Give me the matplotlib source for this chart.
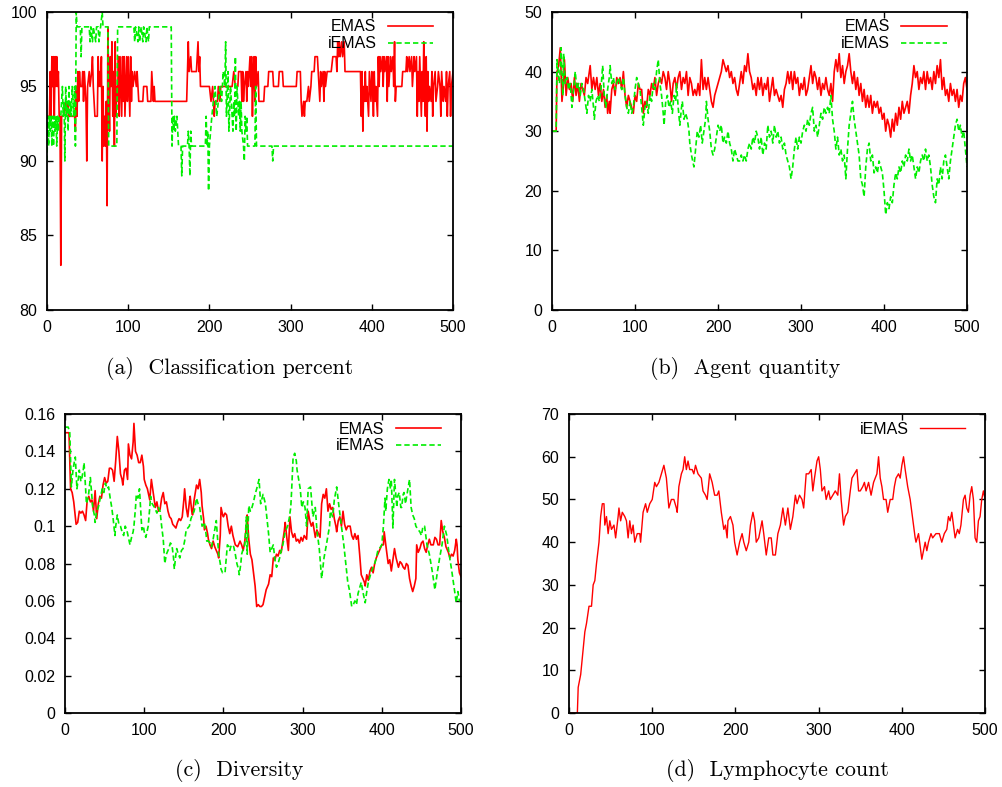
import matplotlib
matplotlib.use("Agg")
import matplotlib.pyplot as plt

plt.rcParams['font.family'] = ['Liberation Sans', 'DejaVu Sans']

# (step, value) pairs

# (a) classification percent
cls_emas = [(0, 93), (3, 93), (4, 96), (5, 93), (6, 97), (7, 95), (8, 97), (9, 93), (10, 97), (11, 95), (12, 97),
            (13, 95), (14, 96), (15, 93), (16, 93), (17, 83), (18, 93), (20, 93), (23, 94), (24, 93), (26, 94),
            (27, 93), (34, 93), (35, 92), (36, 95), (37, 93), (38, 96), (39, 94), (40, 96), (41, 95), (43, 95),
            (44, 96), (45, 94), (46, 96), (48, 94), (49, 90), (50, 95), (52, 96), (53, 95), (55, 96), (56, 97),
            (57, 95), (59, 93), (62, 93), (63, 97), (64, 95), (65, 96), (66, 95), (67, 97), (68, 90), (69, 95),
            (70, 91), (71, 93), (72, 91), (73, 94), (74, 87), (75, 99), (76, 95), (77, 92), (78, 97), (79, 95),
            (80, 98), (81, 93), (82, 96), (83, 91), (84, 98), (85, 93), (86, 95), (87, 94), (88, 97), (89, 93),
            (90, 97), (91, 95), (92, 93), (93, 97), (94, 94), (95, 97), (96, 93), (98, 97), (99, 94), (100, 97),
            (101, 95), (102, 93), (103, 97), (104, 94), (105, 96), (106, 95), (108, 96), (110, 95), (111, 96),
            (112, 95), (113, 94), (118, 94), (119, 95), (123, 95), (124, 94), (128, 94), (129, 96), (130, 95),
            (131, 94), (132, 95), (133, 94), (143, 94), (172, 94), (174, 98), (175, 96), (177, 97), (178, 96),
            (184, 96), (186, 98), (187, 96), (188, 97), (189, 95), (200, 95), (202, 94), (204, 95), (206, 93),
            (207, 94), (210, 94), (211, 95), (213, 94), (214, 95), (228, 95), (230, 96), (232, 95), (235, 95),
            (236, 96), (239, 96), (240, 94), (241, 96), (242, 94), (243, 95), (245, 96), (246, 94), (247, 96),
            (248, 95), (250, 97), (251, 95), (252, 97), (253, 93), (254, 96), (255, 97), (256, 94), (257, 97),
            (258, 95), (260, 96), (261, 94), (267, 94), (268, 95), (272, 95), (273, 96), (278, 96), (279, 95),
            (285, 95), (286, 96), (290, 96), (291, 95), (307, 95), (308, 96), (312, 96), (313, 94), (314, 93),
            (316, 94), (317, 93), (318, 94), (320, 94), (322, 95), (323, 94), (325, 95), (326, 96), (329, 96),
            (330, 97), (333, 97), (334, 96), (336, 94), (337, 96), (338, 95), (340, 96), (341, 94), (342, 96),
            (343, 95), (345, 96), (350, 96), (352, 97), (356, 97), (357, 96), (358, 98), (359, 97), (360, 98),
            (361, 97), (363, 98), (364, 97), (366, 98), (367, 96), (373, 96), (386, 96), (387, 93), (388, 96),
            (389, 92), (390, 95), (391, 94), (392, 96), (393, 94), (394, 95), (396, 93), (397, 96), (399, 94),
            (400, 96), (401, 95), (402, 93), (403, 96), (404, 94), (405, 95), (407, 93), (408, 97), (409, 95),
            (410, 97), (411, 96), (413, 97), (414, 95), (415, 97), (416, 96), (418, 97), (419, 94), (420, 97),
            (421, 95), (423, 97), (424, 96), (426, 97), (427, 95), (428, 98), (429, 94), (430, 95), (437, 95),
            (438, 96), (442, 96), (443, 97), (444, 96), (446, 97), (447, 96), (449, 97), (450, 95), (452, 97),
            (453, 96), (455, 97), (456, 93), (457, 96), (458, 94), (459, 97), (460, 95), (461, 93), (462, 96),
            (463, 94), (464, 98), (465, 95), (466, 93), (467, 97), (468, 92), (469, 96), (470, 94), (471, 95),
            (473, 94), (474, 96), (475, 93), (476, 95), (478, 96), (479, 94), (481, 95), (482, 96), (484, 95),
            (485, 93), (486, 96), (488, 94), (489, 95), (491, 94), (492, 96), (493, 93), (494, 95), (496, 96),
            (497, 93), (498, 95), (500, 96)]
cls_iemas = [(0, 90), (1, 93), (2, 91), (3, 93), (4, 92), (5, 93), (6, 91), (7, 93), (8, 91), (9, 93), (10, 92),
             (11, 93), (12, 91), (13, 93), (14, 92), (15, 93), (17, 93), (18, 94), (19, 95), (20, 93), (21, 94),
             (22, 90), (23, 95), (24, 93), (25, 94), (26, 92), (27, 95), (28, 93), (29, 94), (30, 93), (31, 95),
             (32, 94), (33, 93), (34, 95), (35, 91), (36, 100), (37, 99), (41, 99), (42, 97), (43, 99), (52, 99),
             (53, 98), (54, 99), (56, 98), (57, 99), (60, 98), (61, 99), (63, 99), (64, 98), (66, 99), (68, 100),
             (69, 99), (75, 99), (76, 91), (86, 91), (87, 99), (107, 99), (108, 98), (109, 99), (112, 98),
             (113, 99), (114, 98), (116, 99), (118, 98), (119, 99), (122, 98), (123, 99), (125, 98), (126, 99),
             (153, 99), (154, 91), (155, 93), (156, 92), (157, 93), (158, 92), (160, 93), (161, 92), (162, 91),
             (165, 91), (166, 89), (167, 91), (173, 91), (174, 92), (175, 91), (176, 89), (177, 92), (178, 91),
             (195, 91), (196, 93), (197, 91), (198, 92), (199, 88), (200, 91), (203, 93), (205, 94), (207, 95),
             (209, 93), (211, 94), (213, 95), (215, 94), (217, 96), (219, 95), (220, 98), (221, 93), (223, 96),
             (224, 92), (226, 95), (227, 94), (229, 92), (230, 94), (231, 93), (232, 97), (233, 92), (234, 95),
             (236, 93), (237, 94), (238, 92), (239, 94), (240, 92), (242, 91), (243, 90), (244, 93), (245, 92),
             (246, 93), (247, 91), (256, 91), (257, 95), (258, 91), (277, 91), (278, 90), (279, 91), (500, 91)]

# (b) agent quantity
agt_emas = [(0, 30), (5, 30), (6, 40), (8, 41), (10, 44), (12, 35), (14, 38), (15, 42), (17, 36), (19, 39),
            (21, 37), (23, 38), (25, 35), (27, 39), (29, 36), (31, 38), (33, 35), (35, 38), (37, 37), (39, 36),
            (41, 39), (43, 38), (46, 41), (48, 37), (50, 39), (52, 37), (54, 39), (56, 36), (58, 38), (60, 35),
            (62, 37), (64, 34), (66, 36), (67, 33), (69, 35), (70, 33), (72, 37), (74, 38), (76, 36), (78, 39),
            (80, 38), (82, 39), (84, 37), (86, 40), (88, 36), (90, 34), (92, 36), (94, 35), (96, 34), (98, 33),
            (100, 36), (102, 35), (104, 38), (106, 37), (108, 37), (110, 33), (112, 35), (114, 34), (116, 37),
            (118, 36), (120, 38), (122, 37), (124, 39), (126, 36), (128, 38), (130, 39), (132, 38), (134, 40),
            (136, 39), (138, 37), (140, 40), (142, 38), (144, 35), (146, 38), (148, 39), (150, 37), (152, 39),
            (154, 40), (156, 37), (158, 39), (160, 38), (162, 40), (164, 36), (166, 39), (168, 38), (170, 36),
            (172, 37), (174, 36), (176, 38), (178, 36), (180, 42), (182, 37), (184, 39), (186, 37), (188, 39),
            (190, 37), (192, 35), (194, 34), (196, 36), (198, 37), (200, 38), (202, 39), (204, 40), (206, 42),
            (208, 41), (210, 40), (212, 41), (214, 39), (216, 40), (218, 38), (220, 39), (222, 37), (224, 36),
            (226, 38), (228, 40), (230, 38), (232, 41), (234, 40), (236, 43), (238, 40), (240, 39), (242, 37),
            (244, 38), (246, 36), (248, 39), (250, 37), (252, 39), (254, 36), (256, 38), (258, 37), (260, 39),
            (262, 35), (264, 37), (266, 39), (268, 36), (270, 37), (272, 36), (274, 35), (276, 36), (278, 34),
            (280, 37), (282, 38), (284, 40), (286, 38), (288, 40), (290, 37), (292, 40), (294, 38), (296, 39),
            (298, 36), (300, 38), (302, 37), (304, 39), (306, 36), (308, 37), (310, 39), (312, 41), (314, 38),
            (316, 40), (318, 39), (320, 37), (322, 39), (324, 36), (326, 38), (328, 37), (330, 39), (332, 37),
            (334, 36), (336, 38), (338, 35), (340, 40), (342, 42), (344, 40), (346, 43), (348, 39), (350, 41),
            (352, 38), (354, 40), (356, 41), (358, 43), (360, 40), (362, 38), (364, 40), (366, 37), (368, 39),
            (370, 36), (372, 38), (374, 35), (376, 37), (378, 34), (380, 36), (382, 34), (384, 36), (386, 33),
            (388, 35), (390, 34), (392, 35), (394, 33), (396, 34), (398, 32), (400, 33), (402, 30), (404, 32),
            (406, 31), (408, 29), (410, 32), (412, 30), (414, 33), (416, 31), (418, 34), (420, 32), (422, 35),
            (424, 33), (426, 34), (428, 35), (430, 33), (432, 36), (434, 38), (436, 41), (438, 39), (440, 40),
            (442, 37), (444, 39), (446, 38), (448, 40), (450, 37), (452, 40), (454, 38), (456, 39), (458, 37),
            (460, 40), (462, 38), (464, 41), (466, 39), (468, 42), (470, 37), (472, 39), (474, 36), (476, 37),
            (478, 35), (480, 38), (482, 36), (484, 37), (486, 35), (488, 37), (490, 34), (492, 36), (494, 35),
            (496, 38), (498, 39), (500, 37)]
agt_iemas = [(0, 30), (5, 30), (6, 42), (9, 38), (11, 44), (13, 36), (14, 43), (16, 38), (18, 39), (20, 37),
             (22, 38), (24, 34), (26, 37), (28, 40), (30, 37), (32, 38), (34, 36), (36, 38), (38, 37), (40, 35),
             (42, 33), (44, 36), (46, 35), (48, 37), (50, 34), (51, 32), (53, 35), (55, 36), (57, 35), (59, 37),
             (61, 41), (63, 36), (65, 34), (67, 37), (69, 39), (70, 41), (72, 38), (74, 39), (76, 37), (78, 38),
             (80, 39), (82, 38), (84, 37), (86, 39), (88, 36), (90, 34), (92, 33), (94, 35), (96, 33), (98, 34),
             (100, 37), (102, 39), (104, 38), (106, 37), (108, 34), (110, 31), (112, 34), (114, 35), (116, 33),
             (118, 36), (120, 35), (122, 38), (124, 37), (126, 40), (128, 42), (130, 38), (132, 36), (134, 33),
             (135, 31), (137, 35), (139, 36), (141, 34), (143, 35), (145, 33), (147, 36), (149, 35), (150, 38),
             (152, 34), (154, 31), (156, 34), (157, 35), (159, 32), (161, 33), (163, 32), (165, 30), (166, 28),
             (168, 26), (171, 24), (173, 27), (175, 30), (177, 29), (179, 31), (181, 28), (183, 30), (185, 32),
             (186, 35), (188, 32), (190, 30), (192, 27), (194, 26), (196, 27), (198, 29), (200, 31), (202, 30),
             (204, 31), (206, 28), (208, 29), (210, 28), (212, 30), (214, 28), (216, 27), (218, 25), (220, 27),
             (222, 26), (224, 25), (226, 25), (228, 26), (230, 25), (232, 26), (234, 25), (236, 27), (238, 28),
             (240, 27), (242, 29), (244, 28), (246, 30), (248, 29), (250, 27), (252, 29), (254, 26), (256, 28),
             (258, 27), (260, 31), (262, 29), (264, 30), (266, 28), (268, 31), (270, 29), (272, 30), (274, 28),
             (276, 29), (278, 27), (280, 28), (282, 26), (284, 25), (286, 24), (288, 22), (290, 24), (292, 27),
             (294, 29), (296, 27), (298, 29), (300, 28), (302, 30), (304, 31), (306, 30), (308, 32), (310, 31),
             (312, 33), (314, 34), (316, 30), (318, 31), (320, 29), (322, 31), (324, 33), (326, 32), (328, 34),
             (330, 33), (332, 34), (334, 33), (336, 36), (338, 32), (340, 30), (342, 27), (344, 29), (346, 26),
             (348, 27), (350, 25), (352, 26), (354, 22), (356, 27), (358, 31), (360, 33), (362, 35), (364, 32),
             (366, 30), (368, 28), (370, 26), (372, 22), (374, 21), (376, 19), (378, 24), (380, 27), (382, 28),
             (384, 25), (386, 26), (388, 23), (390, 24), (392, 23), (394, 25), (396, 24), (398, 23), (400, 20),
             (402, 16), (404, 18), (406, 17), (408, 19), (410, 18), (412, 21), (414, 23), (416, 22), (418, 24),
             (420, 23), (422, 25), (424, 24), (426, 26), (428, 25), (430, 27), (432, 25), (434, 26), (436, 24),
             (438, 22), (440, 24), (442, 23), (444, 25), (446, 26), (448, 25), (450, 27), (452, 25), (454, 26),
             (456, 24), (458, 21), (460, 19), (462, 18), (464, 22), (466, 21), (468, 24), (470, 22), (472, 25),
             (474, 26), (476, 24), (478, 22), (480, 25), (482, 27), (484, 29), (486, 31), (488, 32), (490, 30),
             (492, 31), (494, 29), (496, 30), (498, 27), (500, 24)]

# (c) diversity
div_emas = [(0, 0.15), (3, 0.15), (5, 0.15), (7, 0.12), (9, 0.118), (11, 0.113), (13, 0.105), (14, 0.101),
            (16, 0.102), (18, 0.108), (20, 0.107), (22, 0.108), (24, 0.106), (26, 0.103), (28, 0.114), (30, 0.116),
            (32, 0.113), (34, 0.114), (36, 0.108), (38, 0.119), (40, 0.104), (42, 0.112), (44, 0.116), (46, 0.115),
            (48, 0.122), (50, 0.126), (52, 0.123), (54, 0.124), (56, 0.131), (58, 0.131), (60, 0.13), (62, 0.124),
            (64, 0.135), (66, 0.148), (68, 0.14), (70, 0.128), (72, 0.125), (73, 0.122), (75, 0.13), (77, 0.131),
            (79, 0.125), (80, 0.144), (82, 0.138), (84, 0.136), (86, 0.145), (87, 0.155), (89, 0.14), (91, 0.138),
            (93, 0.134), (95, 0.134), (97, 0.138), (99, 0.132), (100, 0.125), (102, 0.122), (104, 0.12),
            (106, 0.116), (107, 0.114), (109, 0.125), (110, 0.122), (112, 0.116), (114, 0.11), (116, 0.113),
            (118, 0.108), (120, 0.109), (122, 0.115), (124, 0.118), (126, 0.112), (128, 0.113), (130, 0.108),
            (132, 0.105), (134, 0.104), (136, 0.101), (138, 0.1), (140, 0.099), (142, 0.102), (144, 0.104),
            (146, 0.103), (148, 0.105), (150, 0.114), (151, 0.12), (153, 0.11), (155, 0.105), (157, 0.113),
            (158, 0.116), (160, 0.108), (161, 0.106), (163, 0.114), (166, 0.122), (168, 0.12), (170, 0.125),
            (172, 0.118), (173, 0.111), (175, 0.104), (176, 0.098), (178, 0.1), (180, 0.096), (181, 0.093),
            (183, 0.09), (185, 0.088), (187, 0.092), (189, 0.089), (191, 0.087), (193, 0.085), (194, 0.083),
            (196, 0.095), (197, 0.11), (199, 0.106), (200, 0.105), (202, 0.107), (204, 0.106), (206, 0.1),
            (208, 0.096), (210, 0.1), (212, 0.095), (215, 0.09), (218, 0.089), (221, 0.092), (223, 0.09),
            (225, 0.087), (227, 0.092), (229, 0.1), (230, 0.106), (232, 0.093), (234, 0.085), (236, 0.082),
            (238, 0.075), (240, 0.068), (242, 0.057), (244, 0.058), (246, 0.057), (248, 0.057), (250, 0.058),
            (252, 0.062), (254, 0.066), (257, 0.069), (259, 0.074), (261, 0.073), (263, 0.083), (265, 0.082),
            (267, 0.085), (269, 0.084), (271, 0.087), (273, 0.086), (275, 0.092), (277, 0.098), (278, 0.102),
            (280, 0.094), (282, 0.087), (284, 0.105), (286, 0.097), (288, 0.094), (290, 0.096), (292, 0.092),
            (294, 0.093), (296, 0.091), (298, 0.094), (300, 0.092), (302, 0.095), (305, 0.093), (307, 0.108),
            (309, 0.103), (311, 0.1), (313, 0.102), (316, 0.094), (318, 0.098), (320, 0.096), (322, 0.094),
            (324, 0.112), (326, 0.117), (328, 0.115), (330, 0.12), (332, 0.108), (334, 0.112), (336, 0.109),
            (338, 0.11), (340, 0.104), (342, 0.1), (343, 0.097), (345, 0.103), (347, 0.105), (349, 0.1),
            (351, 0.108), (353, 0.101), (355, 0.098), (357, 0.1), (360, 0.1), (362, 0.095), (364, 0.093),
            (366, 0.096), (368, 0.093), (370, 0.095), (372, 0.085), (374, 0.074), (376, 0.072), (378, 0.07),
            (379, 0.068), (381, 0.074), (383, 0.071), (385, 0.076), (387, 0.078), (389, 0.075), (391, 0.08),
            (393, 0.083), (395, 0.085), (397, 0.087), (400, 0.09), (402, 0.09), (403, 0.097), (405, 0.09),
            (408, 0.08), (410, 0.082), (412, 0.076), (414, 0.082), (416, 0.088), (418, 0.083), (421, 0.078),
            (423, 0.081), (425, 0.08), (427, 0.078), (429, 0.077), (431, 0.08), (433, 0.079), (435, 0.072),
            (437, 0.068), (439, 0.065), (441, 0.068), (443, 0.072), (444, 0.09), (446, 0.086), (448, 0.088),
            (450, 0.091), (452, 0.092), (454, 0.088), (456, 0.086), (458, 0.09), (460, 0.093), (462, 0.09),
            (465, 0.09), (467, 0.094), (469, 0.093), (471, 0.09), (473, 0.09), (475, 0.103), (477, 0.097),
            (479, 0.094), (481, 0.089), (484, 0.086), (486, 0.083), (488, 0.085), (490, 0.084), (492, 0.087),
            (494, 0.093), (495, 0.09), (496, 0.082), (498, 0.075), (500, 0.073)]
div_iemas = [(0, 0.153), (4, 0.153), (6, 0.15), (8, 0.121), (10, 0.13), (12, 0.135), (13, 0.137), (15, 0.12),
             (17, 0.126), (18, 0.13), (20, 0.124), (21, 0.125), (23, 0.13), (24, 0.134), (26, 0.12), (27, 0.112),
             (29, 0.115), (30, 0.118), (32, 0.126), (34, 0.115), (35, 0.11), (37, 0.106), (38, 0.102), (40, 0.108),
             (42, 0.11), (44, 0.114), (47, 0.12), (49, 0.118), (51, 0.123), (53, 0.12), (55, 0.121), (57, 0.115),
             (59, 0.11), (61, 0.103), (63, 0.095), (64, 0.1), (66, 0.106), (68, 0.101), (70, 0.1), (72, 0.097),
             (74, 0.095), (76, 0.1), (78, 0.098), (80, 0.094), (82, 0.09), (84, 0.094), (86, 0.097), (87, 0.1),
             (89, 0.11), (90, 0.117), (92, 0.115), (94, 0.12), (96, 0.105), (97, 0.098), (99, 0.1), (100, 0.097),
             (102, 0.094), (104, 0.098), (105, 0.1), (107, 0.11), (108, 0.116), (110, 0.112), (113, 0.11),
             (116, 0.107), (118, 0.11), (120, 0.108), (122, 0.1), (124, 0.093), (126, 0.08), (128, 0.085),
             (131, 0.088), (133, 0.091), (135, 0.09), (137, 0.083), (138, 0.077), (140, 0.085), (141, 0.088),
             (143, 0.085), (145, 0.083), (147, 0.087), (149, 0.088), (151, 0.092), (153, 0.098), (155, 0.099),
             (157, 0.1), (159, 0.104), (161, 0.106), (163, 0.108), (165, 0.112), (166, 0.115), (168, 0.112),
             (170, 0.11), (172, 0.104), (173, 0.1), (175, 0.101), (176, 0.102), (178, 0.096), (179, 0.092),
             (181, 0.092), (183, 0.091), (185, 0.089), (187, 0.093), (189, 0.098), (191, 0.103), (192, 0.097),
             (194, 0.085), (196, 0.08), (197, 0.077), (199, 0.075), (202, 0.075), (204, 0.085), (205, 0.09),
             (207, 0.089), (208, 0.087), (210, 0.09), (213, 0.089), (215, 0.085), (217, 0.08), (219, 0.077),
             (220, 0.074), (222, 0.08), (223, 0.085), (225, 0.088), (227, 0.09), (229, 0.105), (230, 0.085),
             (232, 0.111), (234, 0.108), (236, 0.11), (238, 0.113), (240, 0.117), (242, 0.12), (245, 0.125),
             (247, 0.112), (250, 0.117), (253, 0.112), (255, 0.104), (257, 0.096), (259, 0.086), (261, 0.088),
             (263, 0.09), (265, 0.082), (267, 0.078), (269, 0.08), (271, 0.083), (273, 0.087), (275, 0.09),
             (278, 0.097), (281, 0.1), (283, 0.104), (285, 0.11), (286, 0.118), (288, 0.137), (290, 0.139),
             (292, 0.135), (293, 0.13), (295, 0.125), (297, 0.12), (299, 0.11), (301, 0.113), (303, 0.11),
             (305, 0.1), (307, 0.12), (310, 0.121), (313, 0.105), (316, 0.11), (318, 0.098), (321, 0.088),
             (324, 0.072), (327, 0.083), (330, 0.09), (332, 0.095), (334, 0.1), (335, 0.108), (338, 0.105),
             (340, 0.114), (343, 0.121), (346, 0.11), (349, 0.1), (352, 0.09), (355, 0.078), (357, 0.07),
             (359, 0.066), (362, 0.057), (364, 0.058), (366, 0.06), (368, 0.058), (370, 0.064), (372, 0.067),
             (374, 0.07), (376, 0.065), (379, 0.059), (381, 0.065), (383, 0.07), (385, 0.073), (387, 0.076),
             (389, 0.078), (391, 0.08), (393, 0.083), (395, 0.087), (397, 0.088), (400, 0.09), (402, 0.1),
             (404, 0.115), (405, 0.108), (407, 0.12), (409, 0.125), (411, 0.12), (412, 0.125), (414, 0.099),
             (416, 0.125), (417, 0.12), (419, 0.11), (420, 0.116), (422, 0.118), (424, 0.11), (425, 0.11),
             (427, 0.117), (428, 0.118), (430, 0.112), (431, 0.115), (433, 0.12), (435, 0.125), (437, 0.11),
             (439, 0.106), (441, 0.104), (443, 0.1), (446, 0.098), (448, 0.097), (450, 0.095), (452, 0.1),
             (454, 0.1), (457, 0.09), (460, 0.085), (462, 0.08), (464, 0.075), (467, 0.066), (470, 0.075),
             (473, 0.083), (476, 0.09), (479, 0.1), (482, 0.095), (485, 0.085), (488, 0.077), (491, 0.068),
             (494, 0.059), (496, 0.065), (498, 0.06), (500, 0.06)]

# (d) lymphocyte count
lym_iemas = [(0, 0), (10, 0), (11, 6), (12, 7), (14, 9), (16, 13), (19, 19), (21, 21), (24, 25), (27, 25),
             (29, 30), (31, 31), (33, 35), (36, 40), (38, 46), (40, 49), (42, 49), (43, 44), (45, 46), (47, 42),
             (49, 45), (51, 43), (54, 44), (56, 41), (59, 46), (60, 48), (62, 45), (64, 47), (67, 46), (69, 45),
             (71, 41), (73, 45), (75, 42), (77, 44), (79, 40), (82, 42), (85, 42), (86, 40), (89, 47), (92, 49),
             (94, 47), (97, 49), (100, 50), (103, 54), (105, 53), (108, 54), (111, 56), (114, 58), (117, 55),
             (120, 48), (123, 50), (126, 50), (129, 48), (130, 47), (132, 53), (135, 56), (137, 57), (139, 60),
             (141, 57), (143, 59), (145, 57), (148, 57), (150, 56), (152, 58), (155, 56), (159, 55), (161, 52),
             (164, 51), (166, 50), (169, 56), (172, 54), (175, 51), (178, 51), (180, 52), (183, 47), (186, 43),
             (188, 44), (190, 41), (191, 45), (194, 46), (197, 44), (199, 40), (202, 37), (205, 40), (208, 42),
             (210, 40), (213, 38), (216, 40), (218, 44), (221, 47), (223, 45), (225, 40), (228, 41), (230, 43),
             (232, 45), (234, 42), (237, 37), (240, 41), (243, 41), (245, 37), (248, 37), (251, 42), (254, 44),
             (257, 48), (260, 44), (263, 48), (266, 43), (269, 46), (272, 51), (274, 49), (277, 51), (280, 50),
             (282, 48), (285, 56), (288, 56), (291, 57), (293, 52), (295, 55), (298, 59), (300, 60), (302, 57),
             (304, 52), (307, 53), (309, 50), (312, 52), (314, 50), (317, 51), (320, 52), (323, 51), (325, 56),
             (327, 50), (330, 44), (332, 46), (335, 47), (338, 52), (340, 55), (343, 56), (346, 57), (348, 52),
             (350, 52), (353, 53), (355, 54), (357, 52), (360, 54), (363, 51), (366, 54), (368, 55), (370, 56),
             (372, 60), (374, 55), (376, 53), (378, 50), (381, 50), (383, 47), (386, 50), (389, 50), (391, 53),
             (393, 55), (396, 56), (398, 55), (400, 58), (402, 60), (404, 57), (407, 53), (410, 50), (412, 47),
             (414, 44), (416, 41), (417, 40), (420, 42), (422, 39), (424, 36), (426, 38), (428, 40), (430, 38),
             (432, 40), (435, 42), (437, 41), (441, 42), (445, 42), (448, 40), (451, 42), (454, 43), (456, 46),
             (458, 45), (460, 47), (462, 44), (464, 41), (467, 43), (469, 42), (471, 44), (474, 50), (476, 51),
             (478, 48), (480, 47), (482, 51), (484, 53), (486, 50), (488, 41), (490, 40), (492, 45), (494, 46),
             (496, 50), (498, 52), (500, 50)]

RED = '#ff0000'
GREEN = '#00ee00'
DASH = (3.2, 1.8)


def xs(pts):
    return [p[0] for p in pts]


def ys(pts):
    return [p[1] for p in pts]


def style(ax, ylim, yticks):
    ax.set_xlim(0, 500)
    ax.set_ylim(*ylim)
    ax.set_xticks([0, 100, 200, 300, 400, 500])
    ax.set_yticks(yticks)
    ax.tick_params(direction='in', top=True, right=True, length=4.5, width=1.0,
                   labelsize=11.5, pad=7)
    for s in ax.spines.values():
        s.set_linewidth(1.3)


def legend(ax, anchor):
    ax.legend(loc='upper right', bbox_to_anchor=anchor, frameon=False, markerfirst=False,
              fontsize=11.5, handlelength=2.85, handletextpad=0.7, labelspacing=0.12,
              borderpad=0, borderaxespad=0)


fig = plt.figure(figsize=(10.02, 7.87), dpi=100)

ax_a = fig.add_axes([0.0469, 0.6061, 0.4052, 0.3787])
ax_a.plot(xs(cls_emas), ys(cls_emas), color=RED, lw=1.2, label='EMAS')
ax_a.plot(xs(cls_iemas), ys(cls_iemas), color=GREEN, lw=1.2, dashes=DASH, label='iEMAS')
style(ax_a, (80, 100), [80, 85, 90, 95, 100])
legend(ax_a, (0.951, 0.975))

ax_b = fig.add_axes([0.5509, 0.6061, 0.4142, 0.3787])
ax_b.plot(xs(agt_emas), ys(agt_emas), color=RED, lw=1.2, label='EMAS')
ax_b.plot(xs(agt_iemas), ys(agt_iemas), color=GREEN, lw=1.2, dashes=DASH, label='iEMAS')
style(ax_b, (0, 50), [0, 10, 20, 30, 40, 50])
legend(ax_b, (0.951, 0.975))

ax_c = fig.add_axes([0.0649, 0.0940, 0.3952, 0.3799])
ax_c.plot(xs(div_emas), ys(div_emas), color=RED, lw=1.2, label='EMAS')
ax_c.plot(xs(div_iemas), ys(div_iemas), color=GREEN, lw=1.2, dashes=DASH, label='iEMAS')
style(ax_c, (0, 0.16), [0, 0.02, 0.04, 0.06, 0.08, 0.1, 0.12, 0.14, 0.16])
ax_c.set_yticklabels(['0', '0.02', '0.04', '0.06', '0.08', '0.1', '0.12', '0.14', '0.16'])
legend(ax_c, (0.95, 0.975))

ax_d = fig.add_axes([0.5679, 0.0940, 0.4152, 0.3799])
ax_d.plot(xs(lym_iemas), ys(lym_iemas), color=RED, lw=1.0, label='iEMAS')
style(ax_d, (0, 70), [0, 10, 20, 30, 40, 50, 60, 70])
legend(ax_d, (0.952, 0.975))

cap = dict(fontfamily='cmr10', fontsize=15.8, ha='center', va='center')
fig.text(230 / 1002, 1 - 368 / 787, '(a)  Classification percent', **cap)
fig.text(745 / 1002, 1 - 368 / 787, '(b)  Agent quantity', **cap)
fig.text(239 / 1002, 1 - 771 / 787, '(c)  Diversity', **cap)
fig.text(777 / 1002, 1 - 771 / 787, '(d)  Lymphocyte count', **cap)

fig.savefig('out.png', dpi=100)
